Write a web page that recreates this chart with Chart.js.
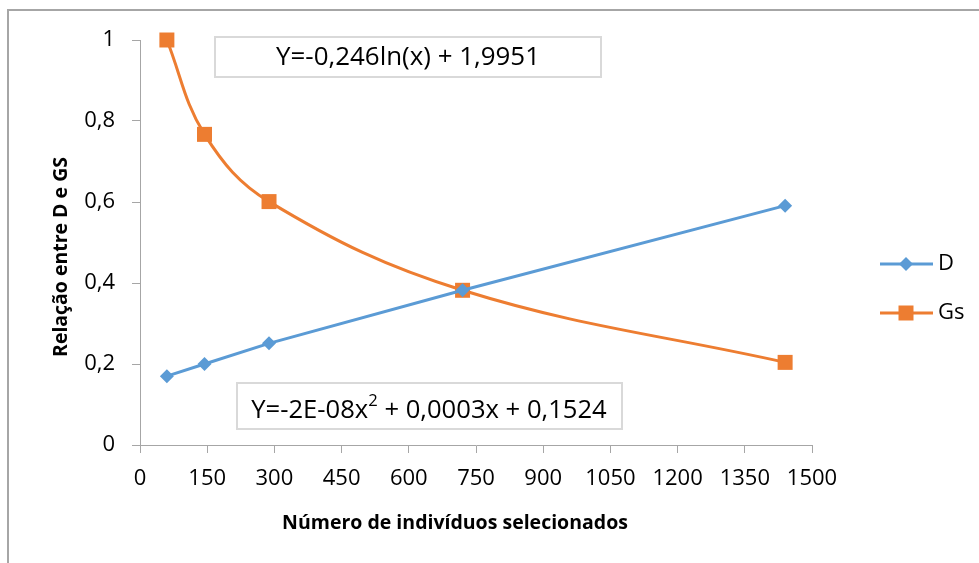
<!DOCTYPE html>
<html>
<head>
<meta charset="utf-8">
<script src="https://cdn.jsdelivr.net/npm/chart.js@4.4.0/dist/chart.umd.min.js"></script>
<style>
    html, body { margin: 0; padding: 0; background: #fff; }
    #wrap { width: 979px; height: 563px; position: relative; }
</style>
</head>
<body>
<div id="wrap"><canvas id="grafico" width="979" height="563"></canvas></div>
<script>
// Dados
const individuos = [60, 144, 288, 720, 1440];
const valoresD = [0.17, 0.2, 0.251, 0.382, 0.591];
const valoresGs = [1, 0.767, 0.601, 0.382, 0.204];
const xTicks = [0, 150, 300, 450, 600, 750, 900, 1050, 1200, 1350, 1500];
const yTicks = [0, 0.2, 0.4, 0.6, 0.8, 1];
const yTickLabels = ['0', '0,2', '0,4', '0,6', '0,8', '1'];
const seriesNomes = ['D', 'Gs'];
const equacaoGs = 'Y=-0,246ln(x) + 1,9951';
const equacaoD = ['Y=-2E-08x', '2', ' + 0,0003x + 0,1524'];
const tituloX = 'Número de indivíduos selecionados';
const tituloY = 'Relação entre D e GS';

const AZUL = '#5b9bd5';
const LARANJA = '#ed7d31';
const CINZA = '#a6a6a6';
const FONTE = '"Open Sans", "Noto Sans", sans-serif';

// ajusta o tamanho da fonte para ocupar a largura desejada
function fitFont(ctx, text, width, weight) {
    ctx.font = `${weight} 20px ${FONTE}`;
    const w = ctx.measureText(text).width;
    return Math.max(10, Math.min(30, 20 * width / w));
}

function drawMarker(ctx, style, x, y, color) {
    ctx.save();
    ctx.fillStyle = color;
    ctx.beginPath();
    if (style === 'rect') {
        ctx.rect(x - 7.5, y - 7.5, 15, 15);
    } else {
        ctx.moveTo(x, y - 7);
        ctx.lineTo(x + 7, y);
        ctx.lineTo(x, y + 7);
        ctx.lineTo(x - 7, y);
        ctx.closePath();
    }
    ctx.fill();
    ctx.restore();
}

const extrasPlugin = {
    id: 'extras',
    afterDraw(chart) {
        const ctx = chart.ctx;
        ctx.save();

        // moldura externa
        ctx.strokeStyle = CINZA;
        ctx.lineWidth = 2;
        ctx.beginPath();
        ctx.moveTo(8, 563);
        ctx.lineTo(8, 10);
        ctx.lineTo(979, 10);
        ctx.stroke();

        // títulos dos eixos
        ctx.fillStyle = '#000';
        ctx.textAlign = 'center';
        ctx.textBaseline = 'middle';
        let size = fitFont(ctx, tituloX, 346, 'bold');
        ctx.font = `bold ${size}px ${FONTE}`;
        ctx.fillText(tituloX, 455, 523);

        size = fitFont(ctx, tituloY, 200, 'bold');
        ctx.save();
        ctx.translate(61, 257);
        ctx.rotate(-Math.PI / 2);
        ctx.font = `bold ${size}px ${FONTE}`;
        ctx.fillText(tituloY, 0, 0);
        ctx.restore();

        // caixas das equações
        ctx.strokeStyle = '#d9d9d9';
        ctx.lineWidth = 2;
        ctx.fillStyle = '#fff';
        ctx.fillRect(215, 37, 386, 40);
        ctx.strokeRect(215, 37, 386, 40);
        ctx.fillRect(237, 383, 385, 46);
        ctx.strokeRect(237, 383, 385, 46);

        ctx.fillStyle = '#000';
        size = fitFont(ctx, equacaoGs, 264, 'normal');
        ctx.font = `${size}px ${FONTE}`;
        ctx.textAlign = 'center';
        ctx.fillText(equacaoGs, 408, 58);

        // equação com expoente
        const full = equacaoD[0] + equacaoD[2];
        size = fitFont(ctx, full, 346, 'normal');
        ctx.font = `${size}px ${FONTE}`;
        const w0 = ctx.measureText(equacaoD[0]).width;
        const w2 = ctx.measureText(equacaoD[2]).width;
        const supSize = size * 0.65;
        ctx.font = `${supSize}px ${FONTE}`;
        const w1 = ctx.measureText(equacaoD[1]).width;
        let x = 429 - (w0 + w1 + w2) / 2;
        ctx.textAlign = 'left';
        ctx.font = `${size}px ${FONTE}`;
        ctx.fillText(equacaoD[0], x, 411);
        x += w0;
        ctx.font = `${supSize}px ${FONTE}`;
        ctx.fillText(equacaoD[1], x, 401);
        x += w1;
        ctx.font = `${size}px ${FONTE}`;
        ctx.fillText(equacaoD[2], x, 411);

        // legenda
        const legendas = [
            { nome: seriesNomes[0], cor: AZUL, estilo: 'rectRot', y: 264 },
            { nome: seriesNomes[1], cor: LARANJA, estilo: 'rect', y: 313 }
        ];
        legendas.forEach(item => {
            ctx.strokeStyle = item.cor;
            ctx.lineWidth = 3;
            ctx.beginPath();
            ctx.moveTo(880, item.y);
            ctx.lineTo(933, item.y);
            ctx.stroke();
            drawMarker(ctx, item.estilo, 906, item.y, item.cor);
            ctx.fillStyle = '#000';
            ctx.font = `22px ${FONTE}`;
            ctx.textAlign = 'left';
            ctx.textBaseline = 'middle';
            ctx.fillText(item.nome, 938, item.y);
        });

        ctx.restore();
    }
};

function criarGrafico() {
    const ctx = document.getElementById('grafico').getContext('2d');
    new Chart(ctx, {
        type: 'line',
        data: {
            datasets: [
                {
                    label: seriesNomes[0],
                    data: individuos.map((x, i) => ({ x, y: valoresD[i] })),
                    borderColor: AZUL,
                    backgroundColor: AZUL,
                    borderWidth: 3,
                    tension: 0,
                    pointStyle: 'rectRot',
                    pointRadius: 7,
                    pointBorderWidth: 0,
                    clip: false
                },
                {
                    label: seriesNomes[1],
                    data: individuos.map((x, i) => ({ x, y: valoresGs[i] })),
                    borderColor: LARANJA,
                    backgroundColor: LARANJA,
                    borderWidth: 3,
                    tension: 0.38,
                    pointStyle: 'rect',
                    pointRadius: 10.6,
                    pointBorderWidth: 0,
                    clip: false
                }
            ]
        },
        options: {
            responsive: false,
            animation: false,
            devicePixelRatio: 1,
            layout: { padding: { left: 0, top: 40, right: 167, bottom: 0 } },
            plugins: {
                legend: { display: false },
                tooltip: { enabled: false }
            },
            scales: {
                x: {
                    type: 'linear',
                    min: 0,
                    max: 1500,
                    afterBuildTicks: s => { s.ticks = xTicks.map(v => ({ value: v })); },
                    afterFit: s => { s.height = 118; },
                    grid: { drawOnChartArea: false, drawTicks: true, tickLength: 8, color: CINZA },
                    border: { color: CINZA, width: 1 },
                    ticks: {
                        color: '#000',
                        padding: 13,
                        maxRotation: 0,
                        font: { family: FONTE, size: 22 },
                        callback: v => String(v)
                    }
                },
                y: {
                    min: 0,
                    max: 1,
                    afterBuildTicks: s => { s.ticks = yTicks.map(v => ({ value: v })); },
                    afterFit: s => { s.width = 140; },
                    grid: { drawOnChartArea: false, drawTicks: true, tickLength: 8, color: CINZA },
                    border: { color: CINZA, width: 1 },
                    ticks: {
                        color: '#000',
                        padding: 17,
                        font: { family: FONTE, size: 22 },
                        callback: (v, i) => yTickLabels[i]
                    }
                }
            }
        },
        plugins: [extrasPlugin]
    });
}

if (document.fonts && document.fonts.load) {
    Promise.all([
        document.fonts.load(`20px "Open Sans"`),
        document.fonts.load(`bold 20px "Open Sans"`)
    ]).then(criarGrafico, criarGrafico);
} else {
    criarGrafico();
}
</script>
</body>
</html>
